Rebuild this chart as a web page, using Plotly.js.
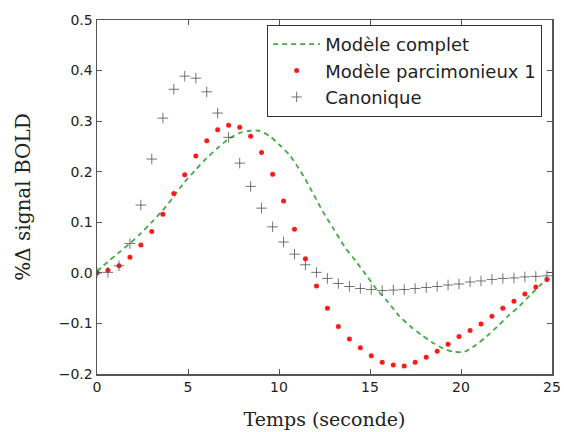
<!DOCTYPE html>
<html>
<head>
<meta charset="utf-8">
<script src="https://cdn.plot.ly/plotly-3.0.1.min.js"></script>
<style>html,body{margin:0;padding:0;background:#fff;}#chart{width:564px;height:432px;}</style>
</head>
<body>
<div id="chart"></div>
<script>
// Sample times (seconds) for the sampled models
const temps = [0, 0.6, 1.21, 1.81, 2.41, 3.01, 3.62, 4.22, 4.82, 5.43, 6.03, 6.63, 7.23, 7.84, 8.44, 9.04, 9.65, 10.25, 10.85, 11.45, 12.06, 12.66, 13.26, 13.87, 14.47, 15.07, 15.67, 16.28, 16.88, 17.48, 18.09, 18.69, 19.29, 19.89, 20.5, 21.1, 21.7, 22.3, 22.91, 23.51, 24.11, 24.72];

// Modèle parcimonieux 1 (red dots)
const parcimonieux = [0.0, 0.005, 0.014, 0.031, 0.055, 0.082, 0.116, 0.157, 0.194, 0.231, 0.261, 0.283, 0.292, 0.288, 0.270, 0.238, 0.195, 0.142, 0.086, 0.028, -0.026, -0.070, -0.106, -0.131, -0.148, -0.164, -0.177, -0.182, -0.184, -0.177, -0.167, -0.155, -0.141, -0.126, -0.114, -0.101, -0.086, -0.070, -0.056, -0.042, -0.028, -0.013];

// Canonique (grey crosses)
const canonique = [0.0, 0.001, 0.014, 0.058, 0.134, 0.225, 0.306, 0.363, 0.389, 0.385, 0.358, 0.316, 0.268, 0.217, 0.171, 0.128, 0.091, 0.061, 0.037, 0.016, 0.001, -0.011, -0.021, -0.027, -0.031, -0.033, -0.035, -0.034, -0.033, -0.031, -0.029, -0.027, -0.024, -0.022, -0.018, -0.016, -0.013, -0.011, -0.010, -0.008, -0.007, -0.006];

// Modèle complet (green dashed line)
const tempsComplet = [0, 0.6, 1.2, 1.8, 2.4, 3.0, 3.6, 4.2, 4.8, 5.4, 6.0, 6.6, 7.2, 7.8, 8.4, 8.9, 9.5, 10.0, 10.6, 11.2, 11.8, 12.4, 13.0, 13.6, 14.2, 14.8, 15.4, 16.0, 16.6, 17.2, 17.8, 18.4, 19.0, 19.6, 20.2, 20.8, 21.4, 22.0, 22.6, 23.2, 23.8, 24.4, 25.0];
const complet = [0.003, 0.022, 0.040, 0.058, 0.078, 0.100, 0.123, 0.150, 0.179, 0.203, 0.226, 0.246, 0.264, 0.276, 0.281, 0.281, 0.270, 0.254, 0.232, 0.200, 0.162, 0.122, 0.087, 0.052, 0.024, -0.005, -0.034, -0.058, -0.085, -0.105, -0.122, -0.137, -0.149, -0.156, -0.156, -0.143, -0.126, -0.106, -0.085, -0.066, -0.044, -0.023, -0.008];

const noms = ['Modèle complet', 'Modèle parcimonieux 1', 'Canonique'];
const xTicks = [0, 5, 10, 15, 20, 25];
const yTicks = [-0.2, -0.1, 0.0, 0.1, 0.2, 0.3, 0.4, 0.5];

const traces = [
  {
    x: tempsComplet, y: complet, name: noms[0], type: 'scatter', mode: 'lines',
    line: {color: '#45a845', width: 1.8, dash: '5px,4px', shape: 'spline', smoothing: 0.8}
  },
  {
    x: temps, y: parcimonieux, name: noms[1], type: 'scatter', mode: 'markers',
    marker: {color: '#ff1a1a', size: 5, symbol: 'circle', line: {width: 0}}
  },
  {
    x: temps, y: canonique, name: noms[2], type: 'scatter', mode: 'markers',
    marker: {symbol: 'cross-thin-open', size: 7.5, color: 'rgba(80,80,80,0.8)', line: {width: 1, color: 'rgba(80,80,80,0.8)'}}
  }
];

const axisCommon = {
  showgrid: false, zeroline: false, showline: true, linecolor: '#555', linewidth: 1.5,
  mirror: 'allticks', ticks: 'inside', ticklen: 5, tickwidth: 1, tickcolor: '#555',
  tickfont: {family: 'DejaVu Sans', size: 14, color: '#222'}
};

const layout = {
  width: 564, height: 432,
  margin: {l: 97, r: 12, t: 20, b: 58},
  paper_bgcolor: '#fff', plot_bgcolor: '#fff',
  showlegend: true,
  xaxis: Object.assign({}, axisCommon, {
    range: [0, 25], tickvals: xTicks, ticktext: xTicks.map(String),
    title: {text: 'Temps (seconde)', font: {family: 'DejaVu Serif', size: 19, color: '#222'}, standoff: 18}
  }),
  yaxis: Object.assign({}, axisCommon, {
    range: [-0.2, 0.5], tickvals: yTicks, tickformat: '.1f',
    title: {text: '%Δ signal BOLD', font: {family: 'DejaVu Serif', size: 20, color: '#222'}, standoff: 22}
  }),
  legend: {
    x: 0.374, y: 0.986, xanchor: 'left', yanchor: 'top',
    bgcolor: '#fff', bordercolor: '#333', borderwidth: 1,
    font: {family: 'DejaVu Sans', size: 18, color: '#222'},
    itemwidth: 47, tracegroupgap: 0
  }
};

Plotly.newPlot('chart', traces, layout, {displayModeBar: false, staticPlot: true});
</script>
</body>
</html>
